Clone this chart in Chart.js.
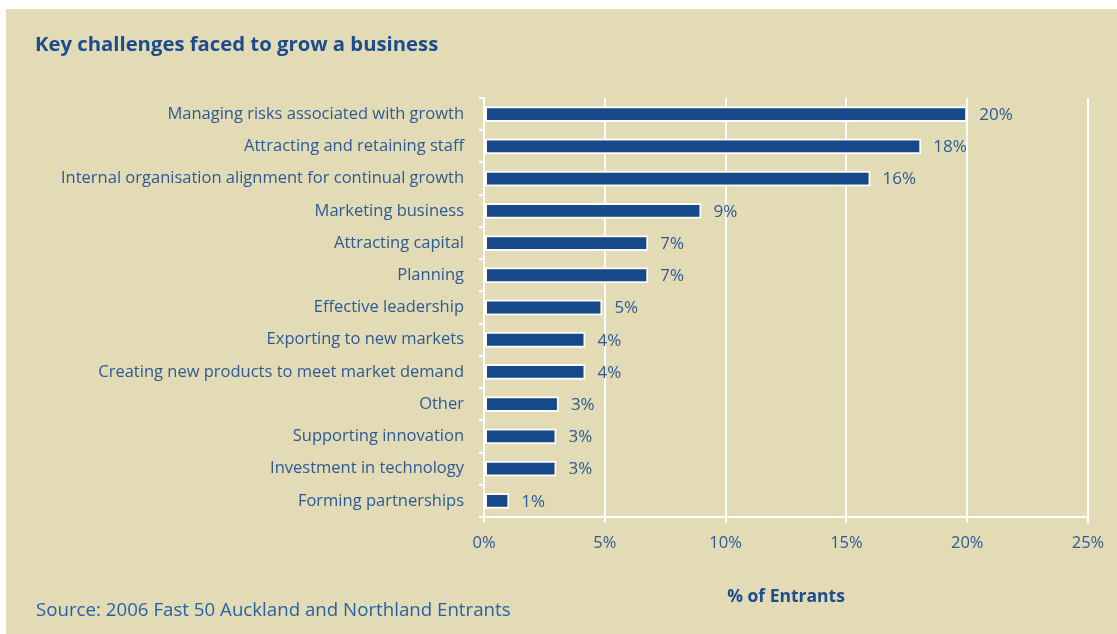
<!DOCTYPE html>
<html>
<head>
<meta charset="utf-8">
<script src="https://cdn.jsdelivr.net/npm/chart.js@4"></script>
<style>
  html, body { margin: 0; padding: 0; background: #fff; }
  #panel {
    position: absolute; left: 6px; top: 9px;
    width: 1111px; height: 625px;
    background: #e2dbb6;
  }
</style>
</head>
<body>
<div id="panel"><canvas id="myChart" width="1111" height="625"></canvas></div>
<script>
var ctx = document.getElementById('myChart').getContext('2d');

// challenges, share of entrants (%)
let challenges = [
  'Managing risks associated with growth',
  'Attracting and retaining staff',
  'Internal organisation alignment for continual growth',
  'Marketing business',
  'Attracting capital',
  'Planning',
  'Effective leadership',
  'Exporting to new markets',
  'Creating new products to meet market demand',
  'Other',
  'Supporting innovation',
  'Investment in technology',
  'Forming partnerships'
];
let entrants = [20, 18.1, 16, 9.0, 6.8, 6.8, 4.9, 4.2, 4.2, 3.1, 3.0, 3.0, 1.05];
let xTicks = [0, 5, 10, 15, 20, 25];

const textBlue = '#2c5b94';
const darkBlue = '#1b4d8e';
const font = "'Open Sans', sans-serif";

// title, source note and the value next to each bar
const extras = {
  id: 'extras',
  afterDatasetsDraw(chart) {
    const c = chart.ctx;
    const meta = chart.getDatasetMeta(0);
    c.save();
    c.fillStyle = textBlue;
    c.font = '17px ' + font;
    c.textAlign = 'left';
    c.textBaseline = 'middle';
    meta.data.forEach((bar, i) => {
      c.fillText(Math.round(entrants[i]) + '%', bar.x + 12, bar.y + 1);
    });

    c.fillStyle = darkBlue;
    c.font = 'bold 20.3px ' + font;
    c.textBaseline = 'alphabetic';
    c.fillText('Key challenges faced to grow a business', 29, 42);

    c.fillStyle = '#2563a8';
    c.font = '18.7px ' + font;
    c.fillText('Source: 2006 Fast 50 Auckland and Northland Entrants', 30, 607);
    c.restore();
  }
};

var chart = new Chart(ctx, {
  type: 'bar',
  data: {
    labels: challenges,
    datasets: [{
      data: entrants,
      backgroundColor: '#174a8b',
      borderColor: '#ffffff',
      borderWidth: 2,
      borderSkipped: false,
      barPercentage: 0.49,
      categoryPercentage: 1
    }]
  },
  options: {
    indexAxis: 'y',
    responsive: false,
    animation: false,
    layout: { padding: { top: 89, right: 29, bottom: 0, left: 0 } },
    plugins: {
      legend: { display: false },
      tooltip: { enabled: false }
    },
    scales: {
      x: {
        min: 0,
        max: 25,
        afterBuildTicks: s => { s.ticks = xTicks.map(v => ({ value: v })); },
        afterFit: s => { s.height = 117; },
        grid: { color: '#ffffff', lineWidth: 2, tickLength: 6 },
        border: { color: '#ffffff', width: 2 },
        ticks: {
          color: textBlue,
          font: { family: font, size: 16.5 },
          padding: 10,
          callback: v => v + '%'
        },
        title: {
          display: true,
          text: '% of Entrants',
          color: darkBlue,
          font: { family: font, size: 17.5, weight: 'bold' },
          padding: { top: 0, bottom: 26 }
        }
      },
      y: {
        afterFit: s => { s.width = 478; },
        grid: {
          display: true,
          drawOnChartArea: false,
          color: '#ffffff',
          lineWidth: 2,
          tickLength: 5,
          offset: true
        },
        border: { color: '#ffffff', width: 2 },
        ticks: {
          color: textBlue,
          font: { family: font, size: 16.5 },
          padding: 15
        }
      }
    }
  },
  plugins: [extras]
});
</script>
</body>
</html>
